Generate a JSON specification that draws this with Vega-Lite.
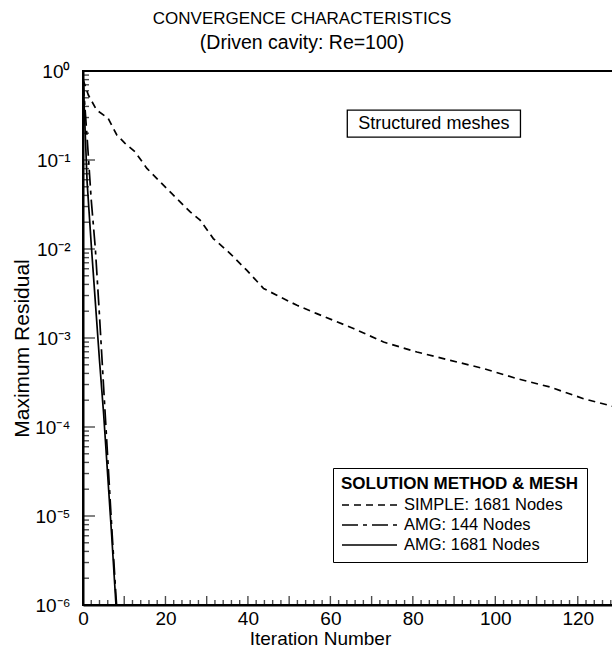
{
  "$schema": "https://vega.github.io/schema/vega-lite/v6.json",
  "width": 536,
  "height": 534,
  "autosize": {"type": "none"},
  "padding": {"left": 83, "top": 71, "right": 0, "bottom": 51},
  "background": "white",
  "config": {
    "font": "Liberation Sans",
    "view": {"stroke": "black", "strokeWidth": 2},
    "axis": {
      "grid": false,
      "domainColor": "black",
      "domainWidth": 2,
      "labelColor": "black",
      "titleColor": "black",
      "labelFont": "Liberation Sans",
      "titleFont": "Liberation Sans",
      "titleFontWeight": "normal"
    }
  },
  "title": {
    "text": "CONVERGENCE CHARACTERISTICS",
    "subtitle": "(Driven cavity: Re=100)",
    "anchor": "middle",
    "frame": "group",
    "dx": -49,
    "offset": 9,
    "font": "Liberation Sans",
    "fontSize": 17,
    "fontWeight": "normal",
    "color": "black",
    "subtitleFont": "Liberation Sans",
    "subtitleFontSize": 19.5,
    "subtitleColor": "black",
    "subtitlePadding": 6
  },
  "resolve": {"axis": {"x": "independent", "y": "independent"}},
  "data": {
    "values": [
      {"method": "SIMPLE: 1681 Nodes", "iter": 0, "res": 0.8},
      {"method": "SIMPLE: 1681 Nodes", "iter": 1.3, "res": 0.537},
      {"method": "SIMPLE: 1681 Nodes", "iter": 3.3, "res": 0.364},
      {"method": "SIMPLE: 1681 Nodes", "iter": 6.1, "res": 0.294},
      {"method": "SIMPLE: 1681 Nodes", "iter": 8.2, "res": 0.191},
      {"method": "SIMPLE: 1681 Nodes", "iter": 10.2, "res": 0.154},
      {"method": "SIMPLE: 1681 Nodes", "iter": 12.6, "res": 0.124},
      {"method": "SIMPLE: 1681 Nodes", "iter": 15.5, "res": 0.0805},
      {"method": "SIMPLE: 1681 Nodes", "iter": 18.3, "res": 0.0594},
      {"method": "SIMPLE: 1681 Nodes", "iter": 21.5, "res": 0.0421},
      {"method": "SIMPLE: 1681 Nodes", "iter": 26, "res": 0.0261},
      {"method": "SIMPLE: 1681 Nodes", "iter": 28.4, "res": 0.0211},
      {"method": "SIMPLE: 1681 Nodes", "iter": 31.6, "res": 0.0131},
      {"method": "SIMPLE: 1681 Nodes", "iter": 35.7, "res": 0.00889},
      {"method": "SIMPLE: 1681 Nodes", "iter": 39.7, "res": 0.00578},
      {"method": "SIMPLE: 1681 Nodes", "iter": 43.8, "res": 0.0036},
      {"method": "SIMPLE: 1681 Nodes", "iter": 47, "res": 0.00302},
      {"method": "SIMPLE: 1681 Nodes", "iter": 51.9, "res": 0.00233},
      {"method": "SIMPLE: 1681 Nodes", "iter": 56.7, "res": 0.00188},
      {"method": "SIMPLE: 1681 Nodes", "iter": 65.6, "res": 0.00128},
      {"method": "SIMPLE: 1681 Nodes", "iter": 72.9, "res": 0.0009},
      {"method": "SIMPLE: 1681 Nodes", "iter": 81, "res": 0.000696},
      {"method": "SIMPLE: 1681 Nodes", "iter": 89.1, "res": 0.000561},
      {"method": "SIMPLE: 1681 Nodes", "iter": 97.2, "res": 0.000453},
      {"method": "SIMPLE: 1681 Nodes", "iter": 105.3, "res": 0.000349},
      {"method": "SIMPLE: 1681 Nodes", "iter": 113.3, "res": 0.000281},
      {"method": "SIMPLE: 1681 Nodes", "iter": 121.4, "res": 0.000208},
      {"method": "SIMPLE: 1681 Nodes", "iter": 128.4, "res": 0.000171},
      {"method": "SIMPLE: 1681 Nodes", "iter": 130, "res": 0.000163},
      {"method": "AMG: 144 Nodes", "iter": 0, "res": 0.794},
      {"method": "AMG: 144 Nodes", "iter": 1, "res": 0.178},
      {"method": "AMG: 144 Nodes", "iter": 2, "res": 0.0355},
      {"method": "AMG: 144 Nodes", "iter": 3, "res": 0.01},
      {"method": "AMG: 144 Nodes", "iter": 4, "res": 0.00178},
      {"method": "AMG: 144 Nodes", "iter": 5, "res": 0.000282},
      {"method": "AMG: 144 Nodes", "iter": 6, "res": 0.0000447},
      {"method": "AMG: 144 Nodes", "iter": 7, "res": 0.00000708},
      {"method": "AMG: 144 Nodes", "iter": 8, "res": 0.00000126},
      {"method": "AMG: 144 Nodes", "iter": 8.15, "res": 0.000001},
      {"method": "AMG: 1681 Nodes", "iter": 0, "res": 0.891},
      {"method": "AMG: 1681 Nodes", "iter": 1, "res": 0.0562},
      {"method": "AMG: 1681 Nodes", "iter": 2, "res": 0.0112},
      {"method": "AMG: 1681 Nodes", "iter": 3, "res": 0.00251},
      {"method": "AMG: 1681 Nodes", "iter": 4, "res": 0.000562},
      {"method": "AMG: 1681 Nodes", "iter": 5, "res": 0.000141},
      {"method": "AMG: 1681 Nodes", "iter": 6, "res": 0.0000282},
      {"method": "AMG: 1681 Nodes", "iter": 7, "res": 0.00000562},
      {"method": "AMG: 1681 Nodes", "iter": 8, "res": 0.000001}
    ]
  },
  "layer": [
    {
      "mark": {"type": "line", "clip": true, "color": "black", "strokeWidth": 1.7},
      "encoding": {
        "x": {
          "field": "iter",
          "type": "quantitative",
          "scale": {"domain": [0, 130], "nice": false, "zero": false},
          "axis": {
            "orient": "bottom",
            "title": "Iteration Number",
            "titleFontSize": 19,
            "titleX": 237,
            "titleY": 39,
            "titleBaseline": "alphabetic",
            "labelFontSize": 19,
            "labelPadding": 4,
            "labelFlush": false,
            "ticks": false,
            "values": [0, 20, 40, 60, 80, 100, 120]
          }
        },
        "y": {
          "field": "res",
          "type": "quantitative",
          "scale": {"type": "log", "domain": [0.000001, 1], "nice": false},
          "axis": {
            "orient": "left",
            "title": "Maximum Residual",
            "titleFontSize": 21,
            "titleX": -55,
            "titleY": 277,
            "titleBaseline": "alphabetic",
            "labelFontSize": 19,
            "labelPadding": 13,
            "ticks": false,
            "values": [0.000001, 0.00001, 0.0001, 0.001, 0.01, 0.1, 1],
            "labelExpr": "'10' + ['⁰', '⁻¹', '⁻²', '⁻³', '⁻⁴', '⁻⁵', '⁻⁶'][-round(log(datum.value) / LN10)]",
            "labelOverlap": false
          }
        },
        "strokeDash": {
          "field": "method",
          "type": "nominal",
          "scale": {
            "domain": ["SIMPLE: 1681 Nodes", "AMG: 144 Nodes", "AMG: 1681 Nodes"],
            "range": [[7, 5], [16, 5, 4, 5], [1, 0]]
          },
          "legend": {
            "orient": "none",
            "legendX": 250,
            "legendY": 397,
            "title": "SOLUTION METHOD & MESH",
            "titleFont": "Liberation Sans",
            "titleFontSize": 17,
            "titleFontWeight": "bold",
            "titleColor": "black",
            "titleLimit": 400,
            "titlePadding": 3,
            "labelFont": "Liberation Sans",
            "labelFontSize": 16.5,
            "labelColor": "black",
            "labelOffset": 6,
            "labelLimit": 300,
            "symbolType": "stroke",
            "symbolSize": 3025,
            "symbolStrokeColor": "black",
            "symbolStrokeWidth": 1.5,
            "clipHeight": 18,
            "rowPadding": 2,
            "padding": 8,
            "strokeColor": "black",
            "fillColor": "white"
          }
        }
      }
    },
    {
      "data": {"values": [{"at": 0}, {"at": 10}, {"at": 20}, {"at": 30}, {"at": 40}, {"at": 50}, {"at": 60}, {"at": 70}, {"at": 80}, {"at": 90}, {"at": 100}, {"at": 110}, {"at": 120}, {"at": 130}]},
      "mark": {"type": "tick", "orient": "vertical", "color": "black", "size": 9, "thickness": 1.4},
      "encoding": {
        "x": {"field": "at", "type": "quantitative", "axis": null},
        "y": {"datum": 0.0000011235, "type": "quantitative", "axis": null}
      }
    },
    {
      "data": {"values": [{"at": 2}, {"at": 4}, {"at": 6}, {"at": 8}, {"at": 12}, {"at": 14}, {"at": 16}, {"at": 18}, {"at": 22}, {"at": 24}, {"at": 26}, {"at": 28}, {"at": 32}, {"at": 34}, {"at": 36}, {"at": 38}, {"at": 42}, {"at": 44}, {"at": 46}, {"at": 48}, {"at": 52}, {"at": 54}, {"at": 56}, {"at": 58}, {"at": 62}, {"at": 64}, {"at": 66}, {"at": 68}, {"at": 72}, {"at": 74}, {"at": 76}, {"at": 78}, {"at": 82}, {"at": 84}, {"at": 86}, {"at": 88}, {"at": 92}, {"at": 94}, {"at": 96}, {"at": 98}, {"at": 102}, {"at": 104}, {"at": 106}, {"at": 108}, {"at": 112}, {"at": 114}, {"at": 116}, {"at": 118}, {"at": 122}, {"at": 124}, {"at": 126}, {"at": 128}]},
      "mark": {"type": "tick", "orient": "vertical", "color": "black", "size": 5, "thickness": 1.4},
      "encoding": {
        "x": {"field": "at", "type": "quantitative", "axis": null},
        "y": {"datum": 0.0000010668, "type": "quantitative", "axis": null}
      }
    },
    {
      "data": {"values": [{"at": 0.000001}, {"at": 0.00001}, {"at": 0.0001}, {"at": 0.001}, {"at": 0.01}, {"at": 0.1}, {"at": 1}]},
      "mark": {"type": "tick", "orient": "horizontal", "color": "black", "size": 12, "thickness": 1.4},
      "encoding": {
        "y": {"field": "at", "type": "quantitative", "axis": null},
        "x": {"datum": 1.455, "type": "quantitative", "axis": null}
      }
    },
    {
      "data": {"values": [{"at": 0.000002}, {"at": 0.000003}, {"at": 0.000004}, {"at": 0.000005}, {"at": 0.000006}, {"at": 0.000007}, {"at": 0.000008}, {"at": 0.000009}, {"at": 0.00002}, {"at": 0.00003}, {"at": 0.00004}, {"at": 0.00005}, {"at": 0.00006}, {"at": 0.00007}, {"at": 0.00008}, {"at": 0.00009}, {"at": 0.0002}, {"at": 0.0003}, {"at": 0.0004}, {"at": 0.0005}, {"at": 0.0006}, {"at": 0.0007}, {"at": 0.0008}, {"at": 0.0009}, {"at": 0.002}, {"at": 0.003}, {"at": 0.004}, {"at": 0.005}, {"at": 0.006}, {"at": 0.007}, {"at": 0.008}, {"at": 0.009}, {"at": 0.02}, {"at": 0.03}, {"at": 0.04}, {"at": 0.05}, {"at": 0.06}, {"at": 0.07}, {"at": 0.08}, {"at": 0.09}, {"at": 0.2}, {"at": 0.3}, {"at": 0.4}, {"at": 0.5}, {"at": 0.6}, {"at": 0.7}, {"at": 0.8}, {"at": 0.9}]},
      "mark": {"type": "tick", "orient": "horizontal", "color": "black", "size": 6, "thickness": 1.4},
      "encoding": {
        "y": {"field": "at", "type": "quantitative", "axis": null},
        "x": {"datum": 0.728, "type": "quantitative", "axis": null}
      }
    },
    {
      "data": {"values": [{"note": "Structured meshes"}]},
      "mark": {"type": "rect", "fill": "white", "stroke": "black", "strokeWidth": 1.3},
      "encoding": {
        "x": {"datum": 64.1, "type": "quantitative", "axis": null},
        "x2": {"datum": 106.1},
        "y": {"datum": 0.364, "type": "quantitative", "axis": null},
        "y2": {"datum": 0.181}
      }
    },
    {
      "data": {"values": [{"note": "Structured meshes"}]},
      "mark": {"type": "text", "font": "Liberation Sans", "fontSize": 18, "color": "black", "align": "center", "baseline": "middle"},
      "encoding": {
        "x": {"datum": 85.1, "type": "quantitative", "axis": null},
        "y": {"datum": 0.257, "type": "quantitative", "axis": null},
        "text": {"field": "note"}
      }
    }
  ]
}
